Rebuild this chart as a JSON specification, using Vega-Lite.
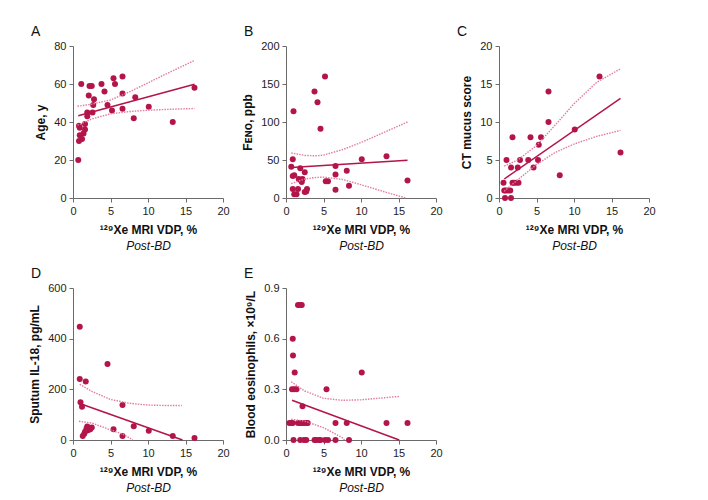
{
  "$schema": "https://vega.github.io/schema/vega-lite/v6.json",
  "padding": {"left": 28, "top": 25, "right": 5, "bottom": 5},
  "background": "white",
  "columns": 3,
  "spacing": {"column": 63, "row": 90},
  "bounds": "flush",
  "datasets": {
    "A_pts": [{"vdp":1.1,"v":60},{"vdp":2.2,"v":59},{"vdp":2.5,"v":59},{"vdp":3.8,"v":60},{"vdp":5.4,"v":63},{"vdp":6.6,"v":64},{"vdp":5.6,"v":60},{"vdp":4.2,"v":56},{"vdp":2.1,"v":54},{"vdp":2.8,"v":52},{"vdp":6.6,"v":55},{"vdp":8.3,"v":53},{"vdp":2.7,"v":49},{"vdp":4.6,"v":49},{"vdp":5.2,"v":46},{"vdp":6.6,"v":47},{"vdp":10.1,"v":48},{"vdp":16.2,"v":58},{"vdp":1.9,"v":45},{"vdp":2.6,"v":45},{"vdp":1.9,"v":43},{"vdp":8.1,"v":42},{"vdp":13.3,"v":40},{"vdp":1.6,"v":39},{"vdp":0.8,"v":38},{"vdp":0.9,"v":37},{"vdp":1.6,"v":36},{"vdp":1.4,"v":34},{"vdp":0.9,"v":33},{"vdp":1.2,"v":31},{"vdp":0.8,"v":30},{"vdp":0.7,"v":20}],
    "A_fit": [{"vdp":0.7,"v":43.3},{"vdp":16.2,"v":59.9}],
    "A_ci": [{"vdp":0.6,"v":48.3,"band":"upper"},{"vdp":2.5,"v":49.4,"band":"upper"},{"vdp":5,"v":51.6,"band":"upper"},{"vdp":7.5,"v":55.8,"band":"upper"},{"vdp":10,"v":60.6,"band":"upper"},{"vdp":13,"v":66.4,"band":"upper"},{"vdp":16.2,"v":72.4,"band":"upper"},
             {"vdp":0.6,"v":38.3,"band":"lower"},{"vdp":2.5,"v":41.6,"band":"lower"},{"vdp":5,"v":44.3,"band":"lower"},{"vdp":7.5,"v":45.5,"band":"lower"},{"vdp":10,"v":46.2,"band":"lower"},{"vdp":13,"v":46.7,"band":"lower"},{"vdp":16.2,"v":47.1,"band":"lower"}],
    "B_pts": [{"vdp":5.2,"v":160},{"vdp":3.8,"v":140},{"vdp":4.2,"v":126},{"vdp":1.0,"v":114},{"vdp":4.6,"v":91},{"vdp":0.9,"v":51},{"vdp":10.1,"v":51},{"vdp":13.4,"v":55},{"vdp":0.7,"v":41},{"vdp":6.6,"v":42},{"vdp":1.9,"v":39},{"vdp":2.5,"v":34},{"vdp":8.1,"v":36},{"vdp":0.9,"v":29},{"vdp":1.1,"v":30},{"vdp":6.6,"v":31},{"vdp":1.7,"v":25},{"vdp":2.2,"v":25},{"vdp":2.0,"v":23},{"vdp":2.1,"v":21},{"vdp":5.3,"v":22},{"vdp":5.6,"v":22},{"vdp":16.2,"v":23},{"vdp":8.4,"v":16},{"vdp":0.9,"v":12},{"vdp":1.6,"v":12},{"vdp":2.8,"v":12},{"vdp":6.6,"v":11},{"vdp":2.5,"v":8},{"vdp":2.7,"v":8.4},{"vdp":1.1,"v":5},{"vdp":1.4,"v":5}],
    "B_fit": [{"vdp":0.7,"v":40.2},{"vdp":16.2,"v":49.8}],
    "B_ci": [{"vdp":0.7,"v":59.3,"band":"upper"},{"vdp":2.5,"v":56,"band":"upper"},{"vdp":4,"v":55.5,"band":"upper"},{"vdp":5,"v":56.5,"band":"upper"},{"vdp":7.5,"v":63.5,"band":"upper"},{"vdp":10,"v":73,"band":"upper"},{"vdp":13,"v":86,"band":"upper"},{"vdp":16.2,"v":100,"band":"upper"},
             {"vdp":0.7,"v":19,"band":"lower"},{"vdp":2.5,"v":25,"band":"lower"},{"vdp":4,"v":27,"band":"lower"},{"vdp":5,"v":27.5,"band":"lower"},{"vdp":7.5,"v":24.5,"band":"lower"},{"vdp":10,"v":17.5,"band":"lower"},{"vdp":13,"v":8.5,"band":"lower"},{"vdp":16,"v":0,"band":"lower"}],
    "C_pts": [{"vdp":13.4,"v":16},{"vdp":6.6,"v":14},{"vdp":6.6,"v":10},{"vdp":10.1,"v":9},{"vdp":1.8,"v":8},{"vdp":4.2,"v":8},{"vdp":5.6,"v":8},{"vdp":5.3,"v":7},{"vdp":16.2,"v":6},{"vdp":1.0,"v":5},{"vdp":2.8,"v":5},{"vdp":3.9,"v":5},{"vdp":5.2,"v":5},{"vdp":1.6,"v":4},{"vdp":2.5,"v":4},{"vdp":4.6,"v":4},{"vdp":8.1,"v":3},{"vdp":0.6,"v":2},{"vdp":1.8,"v":2},{"vdp":2.0,"v":2},{"vdp":2.3,"v":2},{"vdp":2.6,"v":2},{"vdp":0.7,"v":1},{"vdp":0.9,"v":1},{"vdp":1.2,"v":1},{"vdp":1.5,"v":1},{"vdp":0.8,"v":0},{"vdp":1.6,"v":0}],
    "C_fit": [{"vdp":0.7,"v":2.5},{"vdp":16.2,"v":13.1}],
    "C_ci": [{"vdp":0.7,"v":4.2,"band":"upper"},{"vdp":2.5,"v":5.0,"band":"upper"},{"vdp":5,"v":6.9,"band":"upper"},{"vdp":7.5,"v":9.6,"band":"upper"},{"vdp":10,"v":12.4,"band":"upper"},{"vdp":13,"v":15.2,"band":"upper"},{"vdp":16.2,"v":17.0,"band":"upper"},
             {"vdp":0.7,"v":0.9,"band":"lower"},{"vdp":2.5,"v":2.4,"band":"lower"},{"vdp":5,"v":4.4,"band":"lower"},{"vdp":7.5,"v":6.0,"band":"lower"},{"vdp":10,"v":7.1,"band":"lower"},{"vdp":13,"v":8.1,"band":"lower"},{"vdp":16.2,"v":8.9,"band":"lower"}],
    "D_pts": [{"vdp":0.9,"v":447},{"vdp":4.6,"v":300},{"vdp":0.9,"v":241},{"vdp":1.7,"v":231},{"vdp":1.0,"v":149},{"vdp":1.2,"v":131},{"vdp":6.6,"v":138},{"vdp":5.4,"v":42},{"vdp":8.1,"v":54},{"vdp":10.1,"v":37},{"vdp":1.9,"v":53},{"vdp":2.5,"v":49},{"vdp":2.2,"v":45},{"vdp":2.0,"v":38},{"vdp":1.6,"v":33},{"vdp":1.5,"v":25},{"vdp":1.3,"v":16},{"vdp":6.6,"v":16},{"vdp":13.3,"v":16},{"vdp":16.2,"v":8},{"vdp":2.3,"v":42},{"vdp":1.8,"v":45}],
    "D_fit": [{"vdp":0.9,"v":144},{"vdp":14.6,"v":0}],
    "D_ci": [{"vdp":0.9,"v":220,"band":"upper"},{"vdp":2.5,"v":192,"band":"upper"},{"vdp":5,"v":160,"band":"upper"},{"vdp":7.5,"v":145,"band":"upper"},{"vdp":10,"v":138,"band":"upper"},{"vdp":12.5,"v":136,"band":"upper"},{"vdp":14.5,"v":136,"band":"upper"},
             {"vdp":0.8,"v":74,"band":"lower"},{"vdp":2.5,"v":67,"band":"lower"},{"vdp":5,"v":40,"band":"lower"},{"vdp":6.7,"v":22,"band":"lower"},{"vdp":8.0,"v":0,"band":"lower"}],
    "E_pts": [{"vdp":1.6,"v":0.8},{"vdp":1.9,"v":0.8},{"vdp":2.1,"v":0.8},{"vdp":0.9,"v":0.6},{"vdp":0.93,"v":0.5},{"vdp":1.16,"v":0.4},{"vdp":10.1,"v":0.4},{"vdp":0.8,"v":0.3},{"vdp":1.1,"v":0.3},{"vdp":1.4,"v":0.3},{"vdp":5.4,"v":0.3},{"vdp":2.2,"v":0.2},{"vdp":0.45,"v":0.1},{"vdp":0.7,"v":0.1},{"vdp":0.9,"v":0.1},{"vdp":1.6,"v":0.1},{"vdp":1.9,"v":0.1},{"vdp":2.1,"v":0.1},{"vdp":2.4,"v":0.1},{"vdp":2.7,"v":0.1},{"vdp":2.9,"v":0.1},{"vdp":6.6,"v":0.1},{"vdp":8.1,"v":0.1},{"vdp":13.4,"v":0.1},{"vdp":16.2,"v":0.1},{"vdp":1.0,"v":0},{"vdp":1.9,"v":0},{"vdp":2.4,"v":0},{"vdp":2.7,"v":0},{"vdp":3.8,"v":0},{"vdp":4.0,"v":0},{"vdp":4.4,"v":0},{"vdp":4.6,"v":0},{"vdp":5.2,"v":0},{"vdp":5.6,"v":0},{"vdp":6.6,"v":0},{"vdp":8.4,"v":0}],
    "E_fit": [{"vdp":0.8,"v":0.235},{"vdp":15.1,"v":0}],
    "E_ci": [{"vdp":0.7,"v":0.345,"band":"upper"},{"vdp":2.5,"v":0.29,"band":"upper"},{"vdp":5,"v":0.247,"band":"upper"},{"vdp":7.5,"v":0.235,"band":"upper"},{"vdp":10,"v":0.238,"band":"upper"},{"vdp":12.5,"v":0.248,"band":"upper"},{"vdp":15.1,"v":0.258,"band":"upper"},
             {"vdp":0.7,"v":0.123,"band":"lower"},{"vdp":2.5,"v":0.112,"band":"lower"},{"vdp":5,"v":0.073,"band":"lower"},{"vdp":7.5,"v":0.014,"band":"lower"},{"vdp":7.8,"v":0,"band":"lower"}]
  },
  "concat": [
    {
      "width": 150, "height": 152,
      "title": {"text": "A"},
      "resolve": {"axis": {"x": "independent", "y": "shared"}},
      "encoding": {
        "y": {"field": "v", "type": "quantitative", "scale": {"domain": [0, 80], "nice": false}, "axis": {"values": [0, 20, 40, 60, 80], "title": "Age, y"}}
      },
      "layer": [
        {"data": {"name": "A_pts"}, "mark": {"type": "circle", "size": 36, "opacity": 1, "color": "#b3154a"},
         "encoding": {
           "x": {"field": "vdp", "type": "quantitative", "scale": {"domain": [0, 20], "nice": false}, "axis": {"values": [0, 5, 10, 15, 20], "title": "¹²⁹Xe MRI VDP, %"}}}},
        {"data": {"name": "A_ci"}, "mark": {"type": "line", "color": "#e27d9b", "strokeDash": [1.5, 1.2], "strokeWidth": 1.4},
         "encoding": {
           "x": {"field": "vdp", "type": "quantitative", "scale": {"domain": [0, 20], "nice": false}, "axis": null},
           "detail": {"field": "band"}}},
        {"data": {"name": "A_fit"}, "mark": {"type": "line", "color": "#b3154a", "strokeWidth": 1.5},
         "encoding": {
           "x": {"field": "vdp", "type": "quantitative", "scale": {"domain": [0, 20], "nice": false}, "axis": {"orient": "bottom", "title": "Post-BD", "titleFontStyle": "italic", "titleFontWeight": "normal", "labels": false, "ticks": false, "domainOpacity": 0, "offset": 42, "titlePadding": 0}}}}
      ]
    },
    {
      "width": 150, "height": 152,
      "title": {"text": "B"},
      "resolve": {"axis": {"x": "independent", "y": "shared"}},
      "encoding": {
        "y": {"field": "v", "type": "quantitative", "scale": {"domain": [0, 200], "nice": false}, "axis": {"values": [0, 50, 100, 150, 200], "title": "Fᴇɴᴏ, ppb"}}
      },
      "layer": [
        {"data": {"name": "B_pts"}, "mark": {"type": "circle", "size": 36, "opacity": 1, "color": "#b3154a"},
         "encoding": {
           "x": {"field": "vdp", "type": "quantitative", "scale": {"domain": [0, 20], "nice": false}, "axis": {"values": [0, 5, 10, 15, 20], "title": "¹²⁹Xe MRI VDP, %"}}}},
        {"data": {"name": "B_ci"}, "mark": {"type": "line", "color": "#e27d9b", "strokeDash": [1.5, 1.2], "strokeWidth": 1.4},
         "encoding": {
           "x": {"field": "vdp", "type": "quantitative", "scale": {"domain": [0, 20], "nice": false}, "axis": null},
           "detail": {"field": "band"}}},
        {"data": {"name": "B_fit"}, "mark": {"type": "line", "color": "#b3154a", "strokeWidth": 1.5},
         "encoding": {
           "x": {"field": "vdp", "type": "quantitative", "scale": {"domain": [0, 20], "nice": false}, "axis": {"orient": "bottom", "title": "Post-BD", "titleFontStyle": "italic", "titleFontWeight": "normal", "labels": false, "ticks": false, "domainOpacity": 0, "offset": 42, "titlePadding": 0}}}}
      ]
    },
    {
      "width": 150, "height": 152,
      "title": {"text": "C"},
      "resolve": {"axis": {"x": "independent", "y": "shared"}},
      "encoding": {
        "y": {"field": "v", "type": "quantitative", "scale": {"domain": [0, 20], "nice": false}, "axis": {"values": [0, 5, 10, 15, 20], "title": "CT mucus score"}}
      },
      "layer": [
        {"data": {"name": "C_pts"}, "mark": {"type": "circle", "size": 36, "opacity": 1, "color": "#b3154a"},
         "encoding": {
           "x": {"field": "vdp", "type": "quantitative", "scale": {"domain": [0, 20], "nice": false}, "axis": {"values": [0, 5, 10, 15, 20], "title": "¹²⁹Xe MRI VDP, %"}}}},
        {"data": {"name": "C_ci"}, "mark": {"type": "line", "color": "#e27d9b", "strokeDash": [1.5, 1.2], "strokeWidth": 1.4},
         "encoding": {
           "x": {"field": "vdp", "type": "quantitative", "scale": {"domain": [0, 20], "nice": false}, "axis": null},
           "detail": {"field": "band"}}},
        {"data": {"name": "C_fit"}, "mark": {"type": "line", "color": "#b3154a", "strokeWidth": 1.5},
         "encoding": {
           "x": {"field": "vdp", "type": "quantitative", "scale": {"domain": [0, 20], "nice": false}, "axis": {"orient": "bottom", "title": "Post-BD", "titleFontStyle": "italic", "titleFontWeight": "normal", "labels": false, "ticks": false, "domainOpacity": 0, "offset": 42, "titlePadding": 0}}}}
      ]
    },
    {
      "width": 150, "height": 152,
      "title": {"text": "D"},
      "resolve": {"axis": {"x": "independent", "y": "shared"}},
      "encoding": {
        "y": {"field": "v", "type": "quantitative", "scale": {"domain": [0, 600], "nice": false}, "axis": {"values": [0, 200, 400, 600], "title": "Sputum IL-18, pg/mL"}}
      },
      "layer": [
        {"data": {"name": "D_pts"}, "mark": {"type": "circle", "size": 36, "opacity": 1, "color": "#b3154a"},
         "encoding": {
           "x": {"field": "vdp", "type": "quantitative", "scale": {"domain": [0, 20], "nice": false}, "axis": {"values": [0, 5, 10, 15, 20], "title": "¹²⁹Xe MRI VDP, %"}}}},
        {"data": {"name": "D_ci"}, "mark": {"type": "line", "color": "#e27d9b", "strokeDash": [1.5, 1.2], "strokeWidth": 1.4},
         "encoding": {
           "x": {"field": "vdp", "type": "quantitative", "scale": {"domain": [0, 20], "nice": false}, "axis": null},
           "detail": {"field": "band"}}},
        {"data": {"name": "D_fit"}, "mark": {"type": "line", "color": "#b3154a", "strokeWidth": 1.5},
         "encoding": {
           "x": {"field": "vdp", "type": "quantitative", "scale": {"domain": [0, 20], "nice": false}, "axis": {"orient": "bottom", "title": "Post-BD", "titleFontStyle": "italic", "titleFontWeight": "normal", "labels": false, "ticks": false, "domainOpacity": 0, "offset": 42, "titlePadding": 0}}}}
      ]
    },
    {
      "width": 150, "height": 152,
      "title": {"text": "E"},
      "resolve": {"axis": {"x": "independent", "y": "shared"}},
      "encoding": {
        "y": {"field": "v", "type": "quantitative", "scale": {"domain": [0, 0.9], "nice": false}, "axis": {"values": [0, 0.3, 0.6, 0.9], "format": ".1f", "title": "Blood eosinophils, ×10⁹/L"}}
      },
      "layer": [
        {"data": {"name": "E_pts"}, "mark": {"type": "circle", "size": 36, "opacity": 1, "color": "#b3154a"},
         "encoding": {
           "x": {"field": "vdp", "type": "quantitative", "scale": {"domain": [0, 20], "nice": false}, "axis": {"values": [0, 5, 10, 15, 20], "title": "¹²⁹Xe MRI VDP, %"}}}},
        {"data": {"name": "E_ci"}, "mark": {"type": "line", "color": "#e27d9b", "strokeDash": [1.5, 1.2], "strokeWidth": 1.4},
         "encoding": {
           "x": {"field": "vdp", "type": "quantitative", "scale": {"domain": [0, 20], "nice": false}, "axis": null},
           "detail": {"field": "band"}}},
        {"data": {"name": "E_fit"}, "mark": {"type": "line", "color": "#b3154a", "strokeWidth": 1.5},
         "encoding": {
           "x": {"field": "vdp", "type": "quantitative", "scale": {"domain": [0, 20], "nice": false}, "axis": {"orient": "bottom", "title": "Post-BD", "titleFontStyle": "italic", "titleFontWeight": "normal", "labels": false, "ticks": false, "domainOpacity": 0, "offset": 42, "titlePadding": 0}}}}
      ]
    }
  ],
  "config": {
    "font": "Liberation Sans",
    "view": {"stroke": null},
    "axis": {"grid": false, "domainColor": "#6b6b6b", "tickColor": "#6b6b6b", "tickSize": 4, "labelFont": "Liberation Sans", "labelFontSize": 11, "labelColor": "#222222", "labelPadding": 3, "titleFont": "Liberation Sans", "titleFontSize": 12, "titleFontWeight": "bold", "titleColor": "#111111"},
    "axisX": {"titlePadding": 8, "labelFlush": false},
    "axisY": {"titlePadding": 6, "labelFlush": false},
    "title": {"anchor": "start", "frame": "group", "fontSize": 14, "fontWeight": "normal", "font": "Liberation Sans", "color": "#111111", "dx": -42, "offset": 1}
  }
}
